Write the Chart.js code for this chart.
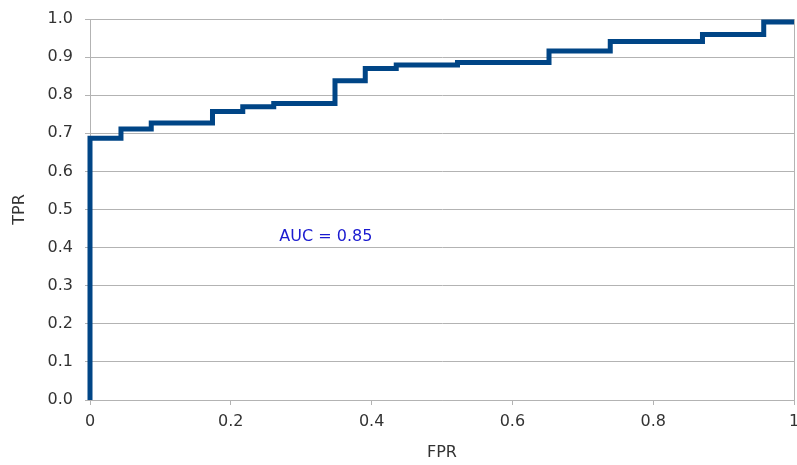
<!DOCTYPE html>
<html>
<head>
<meta charset="utf-8">
<script src="https://cdn.jsdelivr.net/npm/chart.js@4/dist/chart.umd.min.js"></script>
<style>
  html, body { margin: 0; padding: 0; background: #ffffff; }
  #wrap { width: 797px; height: 465px; }
</style>
</head>
<body>
<div id="wrap"><canvas id="c" width="797" height="465"></canvas></div>
<script>
// ROC curve corner points
const fpr = [0, 0, 0.044, 0.087, 0.174, 0.217, 0.261, 0.348, 0.391, 0.435, 0.522, 0.652, 0.739, 0.870, 0.957, 1];
const tpr = [0, 0.687, 0.711, 0.727, 0.757, 0.770, 0.778, 0.838, 0.870, 0.879, 0.886, 0.916, 0.941, 0.959, 0.992, 0.992];
const xTicks = [0, 0.2, 0.4, 0.6, 0.8, 1];
const yTicks = [0, 0.1, 0.2, 0.3, 0.4, 0.5, 0.6, 0.7, 0.8, 0.9, 1.0];
const annotationText = "AUC = 0.85";
const annotationPos = [0.335, 0.428];

const points = fpr.map((x, i) => ({ x: x, y: tpr[i] }));
const FONT = "'DejaVu Sans', Verdana, sans-serif";

const annotate = {
  id: 'annotate',
  afterDatasetsDraw(chart) {
    const { ctx, scales } = chart;
    ctx.save();
    ctx.font = "16px " + FONT;
    ctx.fillStyle = "#1a1ad0";
    ctx.textAlign = "center";
    ctx.textBaseline = "middle";
    ctx.fillText(annotationText, scales.x.getPixelForValue(annotationPos[0]), scales.y.getPixelForValue(annotationPos[1]));
    ctx.restore();
  }
};

new Chart(document.getElementById('c'), {
  type: 'scatter',
  data: {
    datasets: [{
      data: points,
      showLine: true,
      stepped: 'before',
      borderColor: '#004586',
      backgroundColor: '#004586',
      borderWidth: 5,
      pointRadius: 0,
      clip: false,
      borderJoinStyle: 'miter',
      borderCapStyle: 'butt'
    }]
  },
  options: {
    responsive: false,
    animation: false,
    devicePixelRatio: 1,
    layout: { padding: { top: 19, right: 3, left: 0, bottom: 0 } },
    plugins: { legend: { display: false }, tooltip: { enabled: false } },
    scales: {
      x: {
        type: 'linear',
        min: 0, max: 1,
        afterFit(s) { s.height = 65; s.paddingLeft = 0; s.paddingRight = 0; },
        afterBuildTicks(s) { s.ticks = xTicks.map(v => ({ value: v })); },
        ticks: {
          font: { size: 16, family: FONT },
          color: '#333333',
          padding: 7,
          maxRotation: 0,
          callback: v => String(v)
        },
        grid: {
          drawOnChartArea: true,
          color: c => (c.tick && c.tick.value === 1) ? '#b3b3b3' : 'rgba(0,0,0,0)',
          tickColor: '#b3b3b3',
          tickLength: 5,
          lineWidth: 1
        },
        border: { display: true, color: '#b3b3b3' },
        title: {
          display: true, text: 'FPR',
          font: { size: 16, family: FONT }, color: '#333333',
          padding: { top: 2, bottom: 3 }
        }
      },
      y: {
        type: 'linear',
        min: 0, max: 1,
        afterFit(s) { s.width = 90; s.paddingTop = 0; s.paddingBottom = 0; },
        afterBuildTicks(s) { s.ticks = yTicks.map(v => ({ value: v })); },
        ticks: {
          font: { size: 16, family: FONT },
          color: '#333333',
          padding: 12,
          callback: v => Number(v).toFixed(1)
        },
        grid: {
          color: '#b3b3b3',
          tickColor: '#b3b3b3',
          tickLength: 5,
          lineWidth: 1
        },
        border: { display: true, color: '#b3b3b3' },
        title: {
          display: true, text: 'TPR',
          font: { size: 16, family: FONT }, color: '#333333',
          padding: { top: 10, bottom: 0 }
        }
      }
    }
  },
  plugins: [annotate]
});
</script>
</body>
</html>
